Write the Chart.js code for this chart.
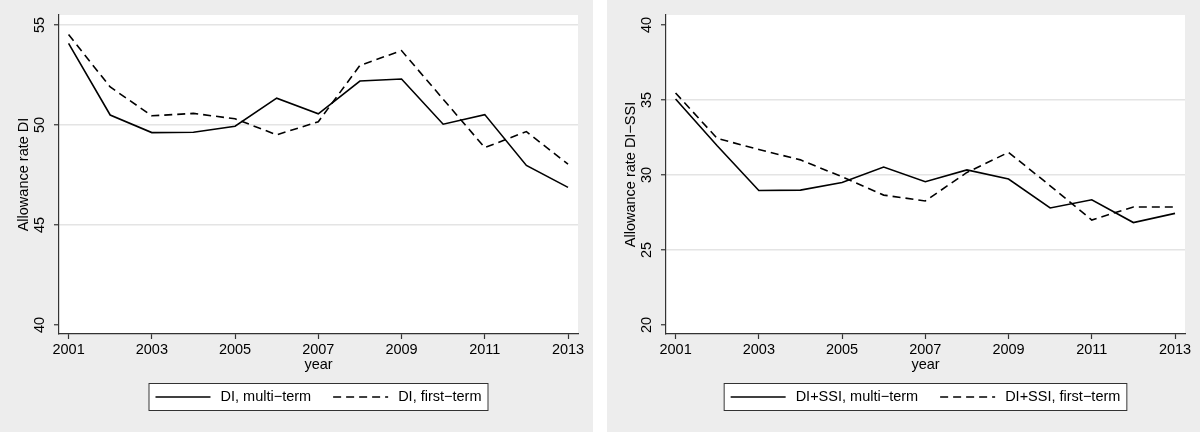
<!DOCTYPE html>
<html>
<head>
<meta charset="utf-8">
<script src="https://cdn.jsdelivr.net/npm/chart.js@4.4.1/dist/chart.umd.min.js"></script>
<style>
    body { margin: 0; background: #fff; width: 1200px; height: 432px; position: relative; overflow: hidden; }
    .panel { position: absolute; top: 0; width: 593px; height: 432px; background: #ededed; }
    canvas { display: block; }
</style>
</head>
<body>
<div class="panel" style="left:0"><canvas id="chart-di" width="593" height="432"></canvas></div>
<div class="panel" style="left:607px"><canvas id="chart-ssi" width="593" height="432"></canvas></div>
<script>
// Données
const years = [2001, 2002, 2003, 2004, 2005, 2006, 2007, 2008, 2009, 2010, 2011, 2012, 2013];
const diMulti = [54.08, 50.5, 49.62, 49.64, 49.94, 51.34, 50.56, 52.2, 52.3, 50.04, 50.52, 47.98, 46.88];
const diFirst = [54.52, 51.9, 50.46, 50.58, 50.31, 49.51, 50.16, 52.98, 53.72, 51.29, 48.87, 49.67, 48.04];
const ssiMulti = [35.07, 31.95, 28.97, 28.99, 29.5, 30.53, 29.55, 30.34, 29.73, 27.8, 28.35, 26.83, 27.44];
const ssiFirst = [35.47, 32.44, 31.7, 31.01, 29.88, 28.66, 28.27, 30.17, 31.51, 29.28, 27.0, 27.87, 27.87];
const yearTicks = [2001, 2003, 2005, 2007, 2009, 2011, 2013];
const diTicks = [40, 45, 50, 55];
const ssiTicks = [20, 25, 30, 35, 40];

const FONT = { family: '"Liberation Sans", Arial, sans-serif', size: 14.5 };
const FONT_CSS = '14.5px "Liberation Sans", Arial, sans-serif';
const AXIS = '#333';
const GRID = '#e4e4e4';

// Fond blanc de la zone de tracé, titres d'axes et légende encadrée (style Stata)
const stataPlugin = {
    id: 'stata',
    beforeDraw(chart) {
        const { ctx, chartArea: a } = chart;
        ctx.save();
        ctx.fillStyle = '#fff';
        ctx.fillRect(a.left, a.top, a.right - a.left, a.bottom - a.top);
        ctx.restore();
    },
    afterDraw(chart) {
        const { ctx, chartArea: a } = chart;
        const opts = chart.options.plugins.stata;
        const cx = (a.left + a.right) / 2;

        ctx.save();
        ctx.font = FONT_CSS;
        ctx.fillStyle = '#000';
        ctx.textAlign = 'center';
        ctx.textBaseline = 'middle';

        // Titre de l'axe x
        ctx.fillText(opts.xTitle, cx, 365);

        // Titre de l'axe y (vertical)
        ctx.save();
        ctx.translate(24, (a.top + a.bottom) / 2);
        ctx.rotate(-Math.PI / 2);
        ctx.fillText(opts.yTitle, 0, 0);
        ctx.restore();

        // Légende
        const pad = 7, sample = 55, gap = 10, itemGap = 22;
        const sets = chart.data.datasets;
        const widths = sets.map(d => ctx.measureText(d.label).width);
        let total = pad * 2 + itemGap * (sets.length - 1);
        widths.forEach(w => { total += sample + gap + w; });
        const top = 383, h = 28, mid = top + h / 2;
        let x = cx - total / 2;

        ctx.fillStyle = '#fff';
        ctx.fillRect(x, top, total, h);
        ctx.strokeStyle = AXIS;
        ctx.lineWidth = 1;
        ctx.strokeRect(x + 0.5, top + 0.5, total - 1, h - 1);

        x += pad;
        sets.forEach((d, i) => {
            ctx.strokeStyle = d.borderColor;
            ctx.lineWidth = d.borderWidth;
            ctx.setLineDash(d.borderDash || []);
            ctx.beginPath();
            ctx.moveTo(x, mid);
            ctx.lineTo(x + sample, mid);
            ctx.stroke();
            ctx.setLineDash([]);
            x += sample + gap;
            ctx.fillStyle = '#000';
            ctx.textAlign = 'left';
            ctx.fillText(d.label, x, mid);
            x += widths[i] + itemGap;
        });
        ctx.restore();
    }
};

function points(values) {
    return years.map((yr, i) => ({ x: yr, y: values[i] }));
}

function makeChart(id, cfg) {
    const ctx = document.getElementById(id).getContext('2d');
    return new Chart(ctx, {
        type: 'line',
        data: {
            datasets: [
                { label: cfg.labels[0], data: points(cfg.multi), borderColor: '#000', borderWidth: 1.6 },
                { label: cfg.labels[1], data: points(cfg.first), borderColor: '#000', borderWidth: 1.6, borderDash: [8, 5] }
            ]
        },
        options: {
            responsive: false,
            animation: false,
            devicePixelRatio: 1,
            layout: { padding: { top: 15, right: 15, left: 0, bottom: 0 } },
            elements: { point: { radius: 0 }, line: { tension: 0 } },
            plugins: {
                legend: { display: false },
                tooltip: { enabled: false },
                stata: { xTitle: 'year', yTitle: cfg.yTitle }
            },
            scales: {
                x: {
                    type: 'linear',
                    min: 2000.77,
                    max: 2013.24,
                    afterBuildTicks: s => { s.ticks = yearTicks.map(v => ({ value: v })); },
                    afterFit: s => { s.height = 98; },
                    border: { color: AXIS, width: 1.2 },
                    grid: { drawOnChartArea: false, tickLength: 5, tickColor: AXIS, tickWidth: 1.2 },
                    ticks: { color: '#000', font: FONT, padding: 2, maxRotation: 0, autoSkip: false, callback: v => String(v) }
                },
                y: {
                    min: cfg.min,
                    max: cfg.max,
                    afterBuildTicks: s => { s.ticks = cfg.ticks.map(v => ({ value: v })); },
                    afterFit: s => { s.width = 59; },
                    border: { color: AXIS, width: 1.2 },
                    grid: {
                        color: c => cfg.grid.includes(c.tick.value) ? GRID : 'rgba(0,0,0,0)',
                        lineWidth: 1.5,
                        tickLength: 5,
                        tickColor: AXIS,
                        tickWidth: 1.2
                    },
                    ticks: { color: '#000', font: FONT, padding: 6, minRotation: 90, maxRotation: 90, crossAlign: 'center', autoSkip: false }
                }
            }
        },
        plugins: [stataPlugin]
    });
}

makeChart('chart-di', {
    multi: diMulti,
    first: diFirst,
    labels: ['DI, multi\u2212term', 'DI, first\u2212term'],
    yTitle: 'Allowance rate DI',
    ticks: diTicks,
    grid: [45, 50, 55],
    min: 39.55,
    max: 55.5
});

makeChart('chart-ssi', {
    multi: ssiMulti,
    first: ssiFirst,
    labels: ['DI+SSI, multi\u2212term', 'DI+SSI, first\u2212term'],
    yTitle: 'Allowance rate DI\u2212SSI',
    ticks: ssiTicks,
    grid: [25, 30, 35],
    min: 19.4,
    max: 40.667
});
</script>
</body>
</html>
